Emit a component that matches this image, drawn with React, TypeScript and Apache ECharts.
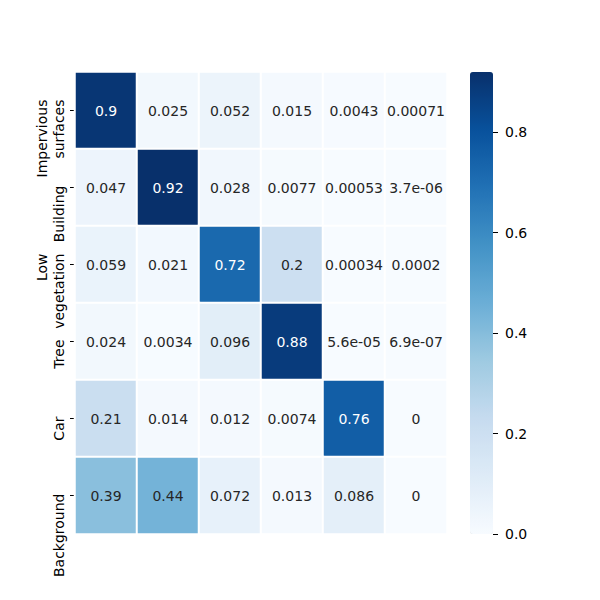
import React, { useEffect, useRef } from "react";
import * as echarts from "echarts";

const rowLabels = ["Impervious\nsurfaces", "Building", "Low\nvegetation", "Tree", "Car", "Background"];
const colLabels = ["c0", "c1", "c2", "c3", "c4", "c5"];
const rowImpervious = [0.9, 0.025, 0.052, 0.015, 0.0043, 0.00071];
const rowBuilding = [0.047, 0.92, 0.028, 0.0077, 0.00053, 3.7e-6];
const rowLowVeg = [0.059, 0.021, 0.72, 0.2, 0.00034, 0.0002];
const rowTree = [0.024, 0.0034, 0.096, 0.88, 5.6e-5, 6.9e-7];
const rowCar = [0.21, 0.014, 0.012, 0.0074, 0.76, 0];
const rowBackground = [0.39, 0.44, 0.072, 0.013, 0.086, 0];
const colorbarTicks = [0, 0.2, 0.4, 0.6, 0.8];
const vMin = 0;
const vMax = 0.92;

const blues = ["#f7fbff", "#deebf7", "#c6dbef", "#9ecae1", "#6baed6", "#4292c6", "#2171b5", "#08519c", "#08306b"];

function strip(s: string) {
  if (s.indexOf(".") >= 0) {
    s = s.replace(/0+$/, "").replace(/\.$/, "");
  }
  return s;
}
function fmtG(v: number): string {
  if (v === 0) return "0";
  const e = Math.floor(Math.log10(Math.abs(v)));
  if (e < -4 || e >= 2) {
    const parts = v.toExponential(1).split("e");
    const m = strip(parts[0]);
    const ex = parseInt(parts[1], 10);
    const sign = ex < 0 ? "-" : "+";
    const a = Math.abs(ex);
    return m + "e" + sign + (a < 10 ? "0" + a : String(a));
  }
  return strip(v.toPrecision(2));
}

export default function App() {
  const ref = useRef<HTMLDivElement>(null);
  useEffect(() => {
    if (!ref.current) return;
    const chart = echarts.init(ref.current, undefined, { renderer: "svg" });
    const rows = [rowImpervious, rowBuilding, rowLowVeg, rowTree, rowCar, rowBackground];
    const data: any[] = [];
    rows.forEach((r, yi) =>
      r.forEach((v, xi) => {
        data.push({
          value: [xi, yi, v],
          label: { color: v > 0.5 ? "#ffffff" : "#262626" },
        });
      })
    );
    const font = "DejaVu Sans";
    chart.setOption({
      animation: false,
      textStyle: { fontFamily: font },
      grid: [
        { left: 75, right: 153, top: 72, bottom: 66 },
        { left: 470, width: 23, top: 72, height: 462 },
      ],
      xAxis: [
        {
          type: "category",
          data: colLabels,
          gridIndex: 0,
          axisLine: { show: false },
          axisTick: { show: false },
          axisLabel: { show: false },
          splitLine: { show: false },
        },
        {
          type: "value",
          gridIndex: 1,
          show: false,
          min: 0,
          max: 1,
          axisLine: { onZero: false },
        },
      ],
      yAxis: [
        {
          type: "category",
          data: rowLabels,
          inverse: true,
          gridIndex: 0,
          axisLine: { show: false },
          axisTick: { show: true, alignWithLabel: true, interval: 0, length: 5, lineStyle: { color: "#000", width: 1 } },
          axisLabel: {
            interval: 0,
            rotate: 90,
            align: "right",
            verticalAlign: "bottom",
            fontSize: 14,
            color: "#000",
            margin: 8,
            lineHeight: 17,
            fontFamily: font,
            formatter: (v: string) =>
              v.indexOf("\n") >= 0
                ? v.split("\n").map((l) => "{ml|" + l + "}").join("\n")
                : "{sl|" + v + "}",
            rich: {
              ml: { fontSize: 14, color: "#000", fontFamily: font, lineHeight: 17, padding: [0, -11, 0, 0] },
              sl: { fontSize: 14, color: "#000", fontFamily: font, lineHeight: 17, padding: [0, -2, 0, 0] },
            },
          },
          splitLine: { show: false },
        },
        {
          type: "value",
          gridIndex: 1,
          position: "right",
          min: vMin,
          max: vMax,
          interval: 0.2,
          axisLine: { show: false, onZero: false },
          axisTick: { show: true, length: 5, lineStyle: { color: "#000", width: 1 } },
          axisLabel: {
            fontSize: 14,
            color: "#000",
            margin: 12,
            fontFamily: font,
            showMaxLabel: false,
            formatter: (v: number) => (colorbarTicks.some((t) => Math.abs(t - v) < 1e-9) ? v.toFixed(1) : ""),
          },
          splitLine: { show: false },
          z: 10,
        },
      ],
      visualMap: {
        type: "continuous",
        min: vMin,
        max: vMax,
        dimension: 2,
        seriesIndex: 0,
        calculable: false,
        show: true,
        left: 470,
        top: 72,
        padding: 0,
        itemWidth: 23,
        itemHeight: 462,
        text: ["", ""],
        showLabel: false,
        inRange: { color: blues },
      },
      series: [
        {
          type: "heatmap",
          xAxisIndex: 0,
          yAxisIndex: 0,
          data,
          itemStyle: { borderColor: "#ffffff", borderWidth: 2 },
          label: {
            show: true,
            fontSize: 14,
            fontFamily: font,
            formatter: (p: any) => fmtG(p.value[2]),
          },
          emphasis: { disabled: true },
        },
        {
          type: "line",
          xAxisIndex: 1,
          yAxisIndex: 1,
          data: [],
          silent: true,
        },
      ],
    });
    return () => chart.dispose();
  }, []);
  return <div ref={ref} style={{ width: 600, height: 600, position: "absolute", left: 0, top: 0 }} />;
}
